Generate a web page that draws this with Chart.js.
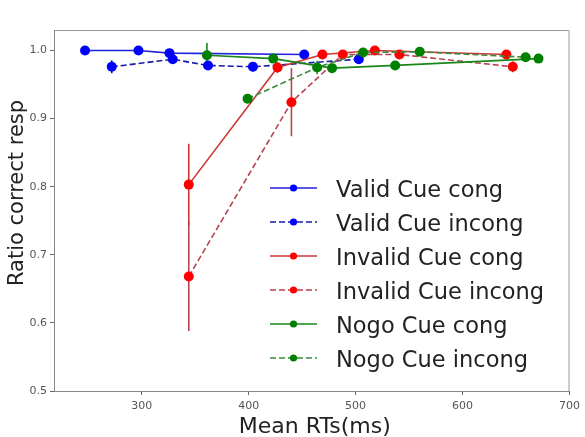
<!DOCTYPE html>
<html><head><meta charset="utf-8">
<script src="https://cdn.jsdelivr.net/npm/chart.js@4.4.0/dist/chart.umd.min.js"></script>
<style>html,body{margin:0;padding:0;background:#fff}#wrap{width:585px;height:437px}</style>
</head><body><div id="wrap"><canvas id="c" width="585" height="437"></canvas></div>
<script>
// ---- data ----
const seriesLabels = ["Valid Cue cong","Valid Cue incong","Invalid Cue cong","Invalid Cue incong","Nogo Cue cong","Nogo Cue incong"];
const validCongX = [247, 297, 326, 452];
const validCongY = [1.0, 1.0, 0.996, 0.994];
const validCongErr = [0.001, 0.001, 0.003, 0.002];
const validIncongX = [272, 329, 362, 404, 503];
const validIncongY = [0.976, 0.987, 0.978, 0.976, 0.987];
const validIncongErr = [0.0095, 0.003, 0.003, 0.007, 0.003];
const invalidCongX = [344, 427, 469, 518, 641];
const invalidCongY = [0.803, 0.975, 0.994, 1.0, 0.994];
const invalidCongErr = [0.06, 0.008, 0.003, 0.002, 0.003];
const invalidIncongX = [344, 440, 488, 541, 647];
const invalidIncongY = [0.668, 0.924, 0.994, 0.994, 0.976];
const invalidIncongErr = [0.08, 0.05, 0.003, 0.003, 0.008];
const nogoCongX = [361, 423, 478, 537, 671];
const nogoCongY = [0.993, 0.988, 0.974, 0.978, 0.988];
const nogoCongErr = [0.018, 0.004, 0.005, 0.005, 0.002];
const nogoIncongX = [399, 464, 507, 560, 659];
const nogoIncongY = [0.929, 0.975, 0.997, 0.998, 0.990];
const nogoIncongErr = [0.004, 0.01, 0.003, 0.002, 0.003];
const xTicks = [300, 400, 500, 600, 700];
const yTicks = [0.5, 0.6, 0.7, 0.8, 0.9, 1.0];
const xTitle = "Mean RTs(ms)";
const yTitle = "Ratio correct resp";

const FONT = "'DejaVu Sans', sans-serif";
function pts(xs, ys){ return xs.map((x,i)=>({x:x, y:ys[i]})); }
function ds(i, xs, ys, err, line, marker, dashed, order){
  return {label: seriesLabels[i], data: pts(xs, ys), err: err,
    borderColor: line, backgroundColor: marker, pointBackgroundColor: marker, pointBorderColor: marker,
    borderWidth: 1.6, pointRadius: 5, pointBorderWidth: 0, borderDash: dashed ? [6,3] : [],
    showLine: true, tension: 0, order: order, errColor: line};
}
const datasets = [
  ds(0, validCongX, validCongY, validCongErr, '#2222dd', '#0000ff', false, 5),
  ds(1, validIncongX, validIncongY, validIncongErr, '#1a1aaa', '#0000ff', true, 4),
  ds(2, invalidCongX, invalidCongY, invalidCongErr, '#cc3636', '#ff0000', false, 3),
  ds(3, invalidIncongX, invalidIncongY, invalidIncongErr, '#b84452', '#ff0000', true, 2),
  ds(4, nogoCongX, nogoCongY, nogoCongErr, '#1a861a', '#008000', false, 1),
  ds(5, nogoIncongX, nogoIncongY, nogoIncongErr, '#3a8a3a', '#008000', true, 0)
];

const errorBars = {
  id: 'errorBars',
  beforeDatasetsDraw(chart){
    const ctx = chart.ctx, xs = chart.scales.x, ys = chart.scales.y;
    ctx.save();
    chart.data.datasets.forEach(d=>{
      ctx.strokeStyle = d.errColor; ctx.lineWidth = 1.6; ctx.setLineDash([]);
      d.data.forEach((p,i)=>{
        const e = d.err[i]; const px = xs.getPixelForValue(p.x);
        ctx.beginPath(); ctx.moveTo(px, ys.getPixelForValue(p.y - e)); ctx.lineTo(px, ys.getPixelForValue(p.y + e)); ctx.stroke();
      });
    });
    ctx.restore();
  }
};

const frame = {
  id: 'frame',
  afterDraw(chart){
    const ctx = chart.ctx, a = chart.chartArea;
    ctx.save();
    ctx.strokeStyle = '#999'; ctx.lineWidth = 1;
    ctx.beginPath();
    ctx.moveTo(a.left+0.5, a.top+0.5); ctx.lineTo(a.right-0.5, a.top+0.5); ctx.lineTo(a.right-0.5, a.bottom);
    ctx.stroke();
    // axis titles
    ctx.fillStyle = '#222';
    ctx.font = "22px " + FONT;
    ctx.textAlign = 'center'; ctx.textBaseline = 'alphabetic';
    ctx.fillText(xTitle, (a.left + a.right)/2 + 3, 433);
    ctx.save();
    ctx.translate(23, 193);
    ctx.rotate(-Math.PI/2);
    ctx.font = "21px " + FONT;
    ctx.fillText(yTitle, 0, 0);
    ctx.restore();
    // legend
    const x0 = 270, x1 = 317, tx = 336, y0 = 188, dy = 34;
    chart.data.datasets.forEach((d,i)=>{
      const y = y0 + i*dy;
      ctx.strokeStyle = d.borderColor; ctx.lineWidth = 1.6; ctx.setLineDash(d.borderDash);
      ctx.beginPath(); ctx.moveTo(x0, y); ctx.lineTo(x1, y); ctx.stroke();
      ctx.setLineDash([]);
      ctx.fillStyle = d.pointBackgroundColor;
      ctx.beginPath(); ctx.arc((x0+x1)/2, y, 3.6, 0, Math.PI*2); ctx.fill();
      ctx.fillStyle = '#222'; ctx.font = "22.5px " + FONT; ctx.textAlign = 'left'; ctx.textBaseline = 'alphabetic';
      ctx.fillText(d.label, tx, y + 8.5);
    });
    ctx.restore();
  }
};

new Chart(document.getElementById('c'), {
  type: 'scatter',
  data: {datasets: datasets},
  options: {
    responsive: false, animation: false, devicePixelRatio: 1,
    layout: {padding: {top: 30, right: 14, left: 0, bottom: 0}},
    plugins: {legend: {display: false}, tooltip: {enabled: false}},
    scales: {
      x: {type: 'linear', min: 218, max: 700,
        afterBuildTicks(s){ s.ticks = xTicks.map(v=>({value:v})); },
        afterFit(s){ s.height = 46; },
        grid: {drawOnChartArea: false, drawTicks: true, tickLength: 4, color: '#666'},
        border: {display: true, color: '#888', width: 1},
        ticks: {font: {family: FONT, size: 11}, color: '#555', padding: 5, maxRotation: 0}
      },
      y: {type: 'linear', min: 0.5, max: 1.03,
        afterBuildTicks(s){ s.ticks = yTicks.map(v=>({value:v})); },
        afterFit(s){ s.width = 54; },
        grid: {drawOnChartArea: false, drawTicks: true, tickLength: 4, color: '#666'},
        border: {display: true, color: '#888', width: 1},
        ticks: {font: {family: FONT, size: 11}, color: '#555', padding: 3, callback: v => v.toFixed(1)}
      }
    }
  },
  plugins: [errorBars, frame]
});
</script></body></html>
